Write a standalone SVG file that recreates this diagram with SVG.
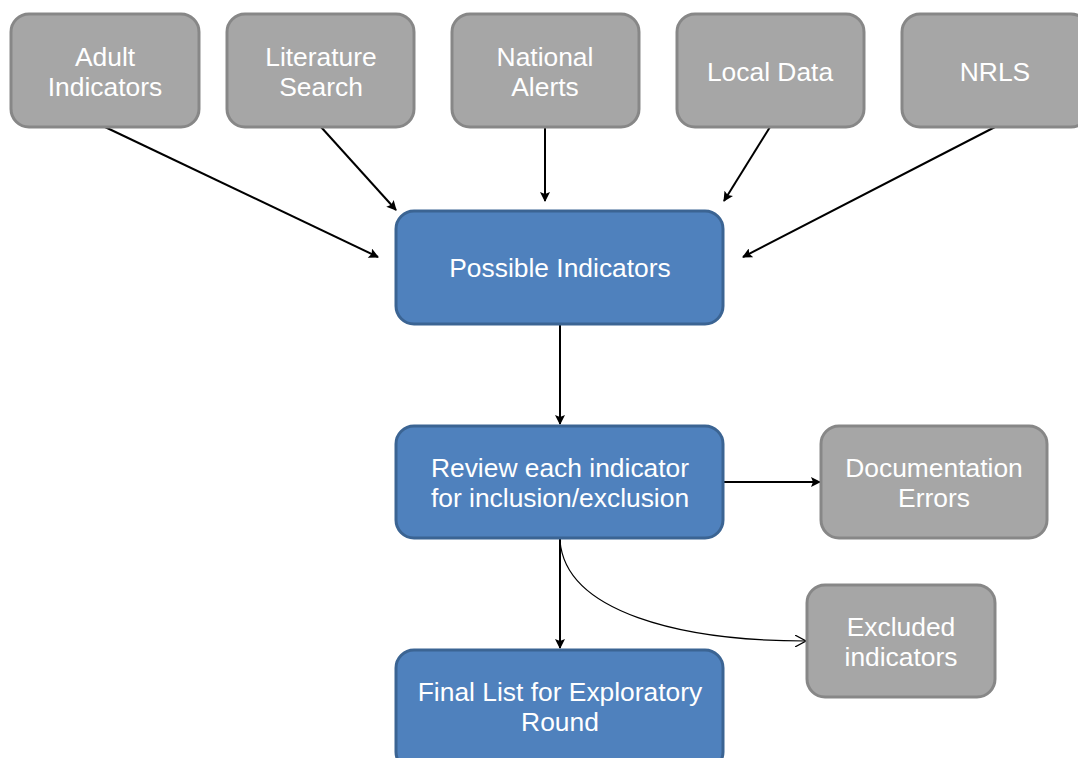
<svg xmlns="http://www.w3.org/2000/svg" width="1078" height="758" viewBox="0 0 1078 758">
<style>
.g{fill:#A6A6A6;stroke:#878787;stroke-width:3}
.b{fill:#4F81BD;stroke:#3B6493;stroke-width:3}
text{font-family:"Liberation Sans",Arial,sans-serif;font-size:26.4px;fill:#fff;text-anchor:middle}
.c{stroke:#000;stroke-width:2;fill:none}
.t{stroke:#000;stroke-width:1.2;fill:none}
</style>
<defs>
<marker id="ah" viewBox="0 0 10 10" refX="9" refY="5" markerWidth="11" markerHeight="10" markerUnits="userSpaceOnUse" orient="auto"><path d="M0,0L10,5L0,10L2,5z" fill="#000"/></marker>
<marker id="oh" viewBox="0 0 12 12" refX="11" refY="6" markerWidth="12" markerHeight="12" markerUnits="userSpaceOnUse" orient="auto"><path d="M0,0L11,6L0,12" fill="none" stroke="#000" stroke-width="1.2"/></marker>
</defs>
<rect width="1078" height="758" fill="#fff"/>
<g id="connectors">
<path class="c" d="M105,127L378,257" marker-end="url(#ah)"/>
<path class="c" d="M321,127L396,210" marker-end="url(#ah)"/>
<path class="c" d="M545,127L545,201" marker-end="url(#ah)"/>
<path class="c" d="M770,127L724,201" marker-end="url(#ah)"/>
<path class="c" d="M995,127L743,257" marker-end="url(#ah)"/>
<path class="c" d="M560,324L560,424" marker-end="url(#ah)"/>
<path class="c" d="M723,482L820,482" marker-end="url(#ah)"/>
<path class="c" d="M560,539L560,648" marker-end="url(#ah)"/>
<path class="t" d="M560,541C566,612 680,641 806,641" marker-end="url(#oh)"/>
</g>
<g id="adult"><rect class="g" x="11" y="14" width="188" height="113" rx="18"/><text x="105" y="66">Adult</text><text x="105" y="96">Indicators</text></g>
<g id="literature"><rect class="g" x="227" y="14" width="187" height="113" rx="18"/><text x="321" y="66">Literature</text><text x="321" y="96">Search</text></g>
<g id="national"><rect class="g" x="452" y="14" width="187" height="113" rx="18"/><text x="545" y="66">National</text><text x="545" y="96">Alerts</text></g>
<g id="local"><rect class="g" x="677" y="14" width="187" height="113" rx="18"/><text x="770" y="81">Local Data</text></g>
<g id="nrls"><rect class="g" x="902" y="14" width="187" height="113" rx="18"/><text x="995" y="81">NRLS</text></g>
<g id="possible"><rect class="b" x="396" y="211" width="327" height="113" rx="18"/><text x="560" y="277">Possible Indicators</text></g>
<g id="review"><rect class="b" x="396" y="426" width="327" height="112" rx="18"/><text x="560" y="477">Review each indicator</text><text x="560" y="507">for inclusion/exclusion</text></g>
<g id="documentation"><rect class="g" x="821" y="426" width="226" height="112" rx="18"/><text x="934" y="477">Documentation</text><text x="934" y="507">Errors</text></g>
<g id="excluded"><rect class="g" x="807" y="585" width="188" height="112" rx="18"/><text x="901" y="636">Excluded</text><text x="901" y="666">indicators</text></g>
<g id="final"><rect class="b" x="396" y="650" width="327" height="120" rx="18"/><text x="560" y="701">Final List for Exploratory</text><text x="560" y="731">Round</text></g>
</svg>
